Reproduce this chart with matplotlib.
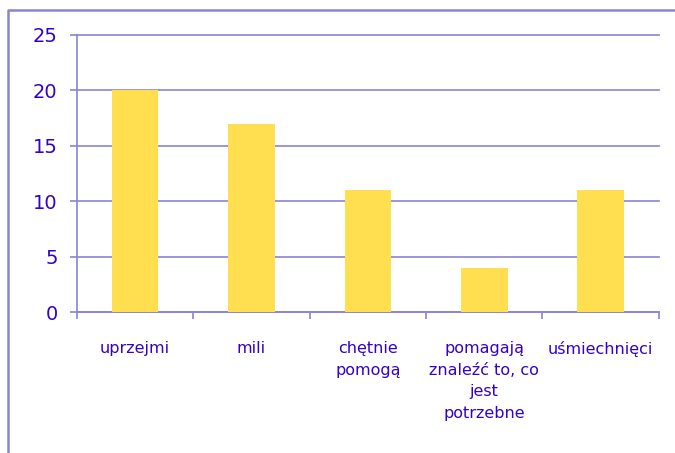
import matplotlib
matplotlib.use("Agg")
import matplotlib.pyplot as plt
from matplotlib.lines import Line2D

categories = ["uprzejmi", "mili", "chętnie\npomogą",
              "pomagają\nznaleźć to, co\njest\npotrzebne", "uśmiechnięci"]
values = [20, 17, 11, 4, 11]
yticks = [0, 5, 10, 15, 20, 25]

text_col = "#3300cc"
line_col = "#8a84d6"
bar_col = "#ffdf4f"

plt.rcParams['font.family'] = ['DejaVu Sans']

fig = plt.figure(figsize=(6.75, 4.53), dpi=100)
ax = fig.add_axes([0.114, 0.311, 0.862, 0.612])

x = list(range(len(categories)))
ax.bar(x, values, width=0.4, color=bar_col, zorder=3)

ax.set_xlim(-0.5, len(categories) - 0.5)
ax.set_ylim(0, 25)
ax.set_yticks(yticks)
ax.yaxis.grid(True, color=line_col, linewidth=1.2, zorder=0)
for gl in ax.get_ygridlines():
    gl.set_clip_on(False)
ax.tick_params(axis='y', colors=line_col, labelcolor=text_col, labelsize=14,
               length=5, width=1.2, pad=9)

ax.set_xticks(x)
ax.set_xticklabels(categories, color=text_col, fontsize=11.5, linespacing=1.55,
                   va='top')
ax.set_xticks([i - 0.5 for i in range(len(categories) + 1)], minor=True)
ax.tick_params(axis='x', which='major', length=0, pad=21)
ax.tick_params(axis='x', which='minor', length=5, width=1.2, colors=line_col)

for s in ['top', 'right']:
    ax.spines[s].set_visible(False)
for s in ['left', 'bottom']:
    ax.spines[s].set_color(line_col)
    ax.spines[s].set_linewidth(1.2)

# outer chart frame (only top and left edges are visible)
W, H = 675, 453
fig.add_artist(Line2D([8 / W, 8 / W, 1], [0, 1 - 10 / H, 1 - 10 / H],
                      transform=fig.transFigure, color=line_col, linewidth=1.8))

fig.savefig("out.png", dpi=100)
